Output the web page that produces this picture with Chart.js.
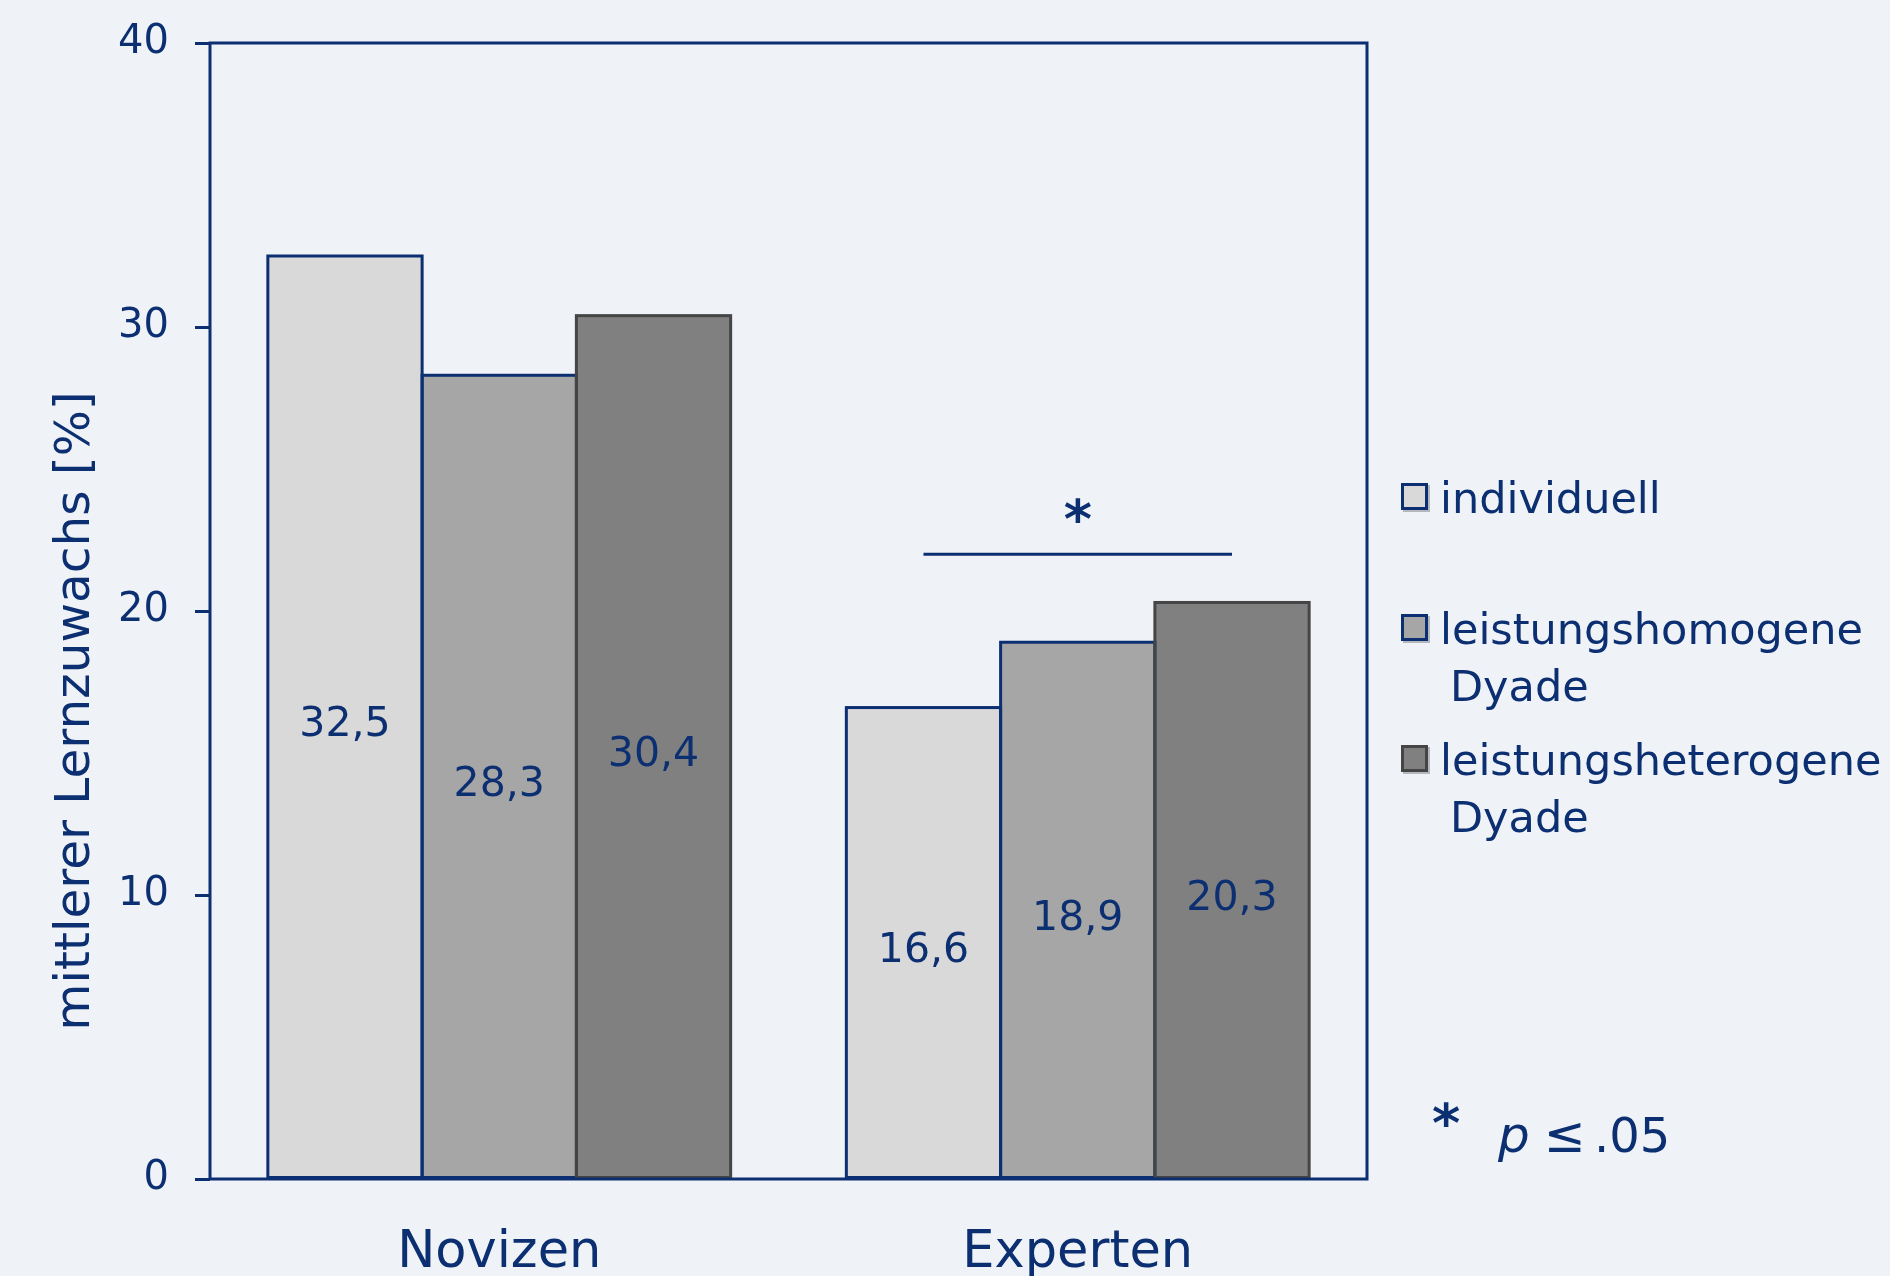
<!DOCTYPE html>
<html>
<head>
<meta charset="utf-8">
<script src="https://cdn.jsdelivr.net/npm/chart.js@4.4.1/dist/chart.umd.min.js"></script>
<style>
  html, body { margin: 0; padding: 0; background: #eff3f7; }
  #wrap { width: 1890px; height: 1276px; }
</style>
</head>
<body>
<div id="wrap"><canvas id="c" width="1890" height="1276"></canvas></div>
<script>
// Lernzuwachs nach Expertise und Lernbedingung
const categories = ['Novizen', 'Experten'];
const seriesLabels = [['individuell'], ['leistungshomogene', 'Dyade'], ['leistungsheterogene', 'Dyade']];
const individuell = [32.5, 16.6];
const homogen = [28.3, 18.9];
const heterogen = [30.4, 20.3];
const yTicks = [0, 10, 20, 30, 40];
const axisTitle = 'mittlerer Lernzuwachs [%]';
// Signifikanzklammer über den Experten (Wert auf der y-Achse)
const sigCategory = 1;
const sigLevel = 22;
const sigStarLevel = 23.4;
const footnote = ['*', 'p', '≤', '.05'];

const NAVY = '#0c2f72';
const BG = '#eff3f7';
const FONT = '"DejaVu Sans", sans-serif';

const fills = ['#d9d9d9', '#a6a6a6', '#808080'];
const borders = [NAVY, NAVY, '#454545'];
const seriesData = [individuell, homogen, heterogen];

const bgPlugin = {
  id: 'bg',
  beforeDraw(chart) {
    const ctx = chart.ctx;
    ctx.save();
    ctx.fillStyle = BG;
    ctx.fillRect(0, 0, chart.width, chart.height);
    ctx.restore();
  }
};

const decorPlugin = {
  id: 'decor',
  afterDatasetsDraw(chart) {
    const ctx = chart.ctx;
    const a = chart.chartArea;
    const y = chart.scales.y;
    ctx.save();

    // Balkenumrisse, auf den Kanten zentriert; spätere Balken überdecken die gemeinsame Kante
    ctx.lineWidth = 3;
    chart.data.labels.forEach((_, j) => {
      chart.data.datasets.forEach((ds, i) => {
        const bar = chart.getDatasetMeta(i).data[j];
        const p = bar.getProps(['x', 'y', 'base', 'width'], true);
        ctx.strokeStyle = ds.borderColor;
        ctx.strokeRect(p.x - p.width / 2, p.y, p.width, p.base - p.y);
      });
    });

    // Rahmen um die Zeichenfläche
    ctx.strokeStyle = NAVY;
    ctx.lineWidth = 3;
    ctx.strokeRect(a.left, a.top, a.right - a.left, a.bottom - a.top);

    // Werte in der Mitte der Balken
    ctx.fillStyle = NAVY;
    ctx.font = '41px ' + FONT;
    ctx.textAlign = 'center';
    ctx.textBaseline = 'middle';
    chart.data.datasets.forEach((ds, i) => {
      chart.getDatasetMeta(i).data.forEach((bar, j) => {
        const txt = ds.data[j].toFixed(1).replace('.', ',');
        ctx.fillText(txt, bar.x, (bar.y + bar.base) / 2 + 9);
      });
    });

    // Signifikanzklammer
    const b0 = chart.getDatasetMeta(0).data[sigCategory];
    const b2 = chart.getDatasetMeta(2).data[sigCategory];
    const ly = y.getPixelForValue(sigLevel);
    ctx.beginPath();
    ctx.moveTo(b0.x, ly);
    ctx.lineTo(b2.x, ly);
    ctx.lineWidth = 3;
    ctx.stroke();
    const cx = chart.scales.x.getPixelForValue(sigCategory);
    ctx.font = 'bold 54px ' + FONT;
    ctx.textBaseline = 'alphabetic';
    ctx.fillText('*', cx, y.getPixelForValue(sigStarLevel) + 24);

    // y-Achsentitel
    ctx.save();
    ctx.translate(89, (a.top + a.bottom) / 2 + 100);
    ctx.rotate(-Math.PI / 2);
    ctx.font = '48.5px ' + FONT;
    ctx.textAlign = 'center';
    ctx.textBaseline = 'alphabetic';
    ctx.fillText(axisTitle, 0, 0);
    ctx.restore();

    // Legende
    const boxTops = [483, 614, 745];
    const baselines = [513, 644, 775];
    const lineGap = 57;
    ctx.textAlign = 'left';
    ctx.textBaseline = 'alphabetic';
    ctx.font = '43px ' + FONT;
    chart.data.datasets.forEach((ds, i) => {
      const bx = 1401, by = boxTops[i], s = 27;
      ctx.fillStyle = 'rgba(110,110,120,0.45)';
      ctx.fillRect(bx + 2, by + 2, s, s);
      ctx.fillStyle = ds.backgroundColor;
      ctx.fillRect(bx, by, s, s);
      ctx.strokeStyle = ds.borderColor;
      ctx.lineWidth = 3;
      ctx.strokeRect(bx + 1.5, by + 1.5, s - 3, s - 3);
      ctx.fillStyle = NAVY;
      seriesLabels[i].forEach((line, k) => {
        ctx.fillText(line, k === 0 ? 1440 : 1450, baselines[i] + k * lineGap);
      });
    });

    // Fußnote
    ctx.font = 'bold 54px ' + FONT;
    ctx.textAlign = 'center';
    ctx.fillText(footnote[0], 1446, 1142);
    ctx.font = 'italic 50px ' + FONT;
    ctx.textAlign = 'left';
    ctx.fillText(footnote[1], 1498, 1152);
    ctx.font = '50px ' + FONT;
    ctx.textAlign = 'center';
    ctx.fillText(footnote[2], 1565, 1152);
    ctx.textAlign = 'left';
    ctx.font = '48px ' + FONT;
    ctx.fillText(footnote[3], 1594, 1152);

    ctx.restore();
  }
};

new Chart(document.getElementById('c'), {
  type: 'bar',
  data: {
    labels: categories,
    datasets: seriesData.map((d, i) => ({
      label: seriesLabels[i].join(' '),
      data: d,
      backgroundColor: fills[i],
      borderColor: borders[i],
      borderWidth: 0,
      categoryPercentage: 0.8,
      barPercentage: 1.0
    }))
  },
  options: {
    responsive: false,
    animation: false,
    devicePixelRatio: 1,
    layout: { padding: { top: 43, right: 523, bottom: 0, left: 0 } },
    plugins: { legend: { display: false }, tooltip: { enabled: false } },
    scales: {
      x: {
        grid: { display: false, drawTicks: false },
        border: { display: false },
        ticks: { color: NAVY, font: { family: FONT, size: 51 }, padding: 44 },
        afterFit(scale) {
          scale.height = 97;
          scale.paddingLeft = 0;
          scale.paddingRight = 0;
        }
      },
      y: {
        min: 0,
        max: 40,
        afterBuildTicks(scale) { scale.ticks = yTicks.map(v => ({ value: v })); },
        grid: { drawOnChartArea: false, drawTicks: true, tickLength: 15, color: NAVY, lineWidth: 3 },
        border: { display: false },
        ticks: { color: NAVY, font: { family: FONT, size: 40 }, padding: 26 },
        afterFit(scale) {
          scale.width = 210;
          scale.paddingTop = 0;
          scale.paddingBottom = 0;
        }
      }
    }
  },
  plugins: [bgPlugin, decorPlugin]
});
</script>
</body>
</html>
